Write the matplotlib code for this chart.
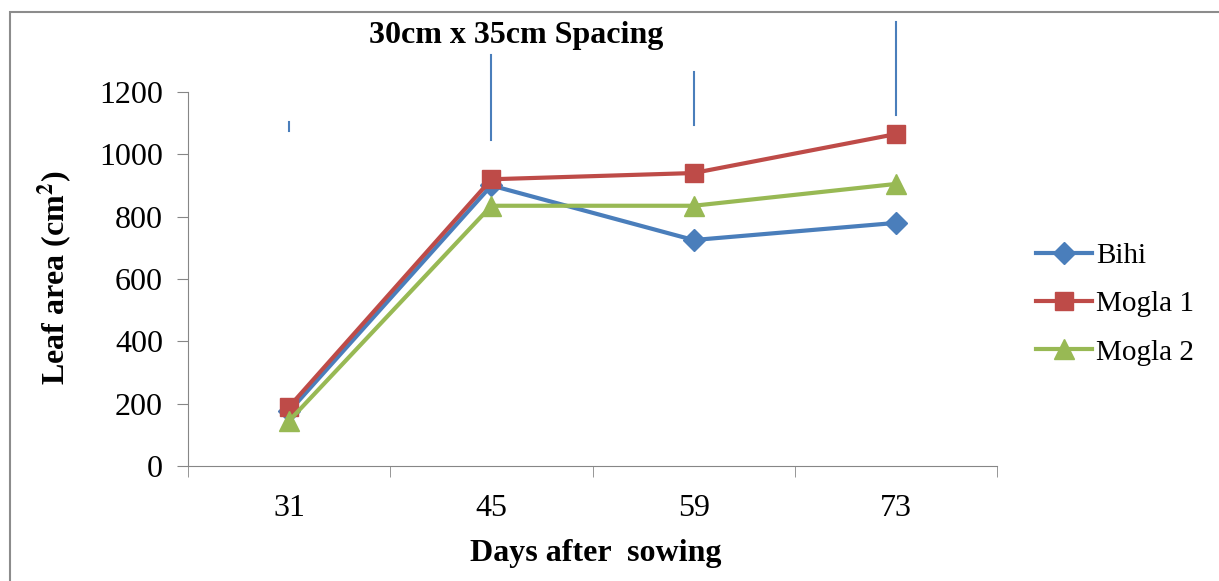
import matplotlib.pyplot as plt
from matplotlib.patches import Rectangle
from matplotlib.ticker import FixedLocator

plt.rcParams['font.family'] = ['Liberation Serif', 'DejaVu Serif']
plt.rcParams['mathtext.fontset'] = 'stix'

days = ['31', '45', '59', '73']
bihi = [175, 900, 725, 780]
mogla1 = [190, 920, 940, 1065]
mogla2 = [145, 835, 835, 905]

# upper parts of the error bars that are still visible above the plot
err_low = [1075, 1046, 1094, 1126]
err_high = [1104, 1319, 1264, 1424]

fig = plt.figure(figsize=(12.19, 5.81), dpi=100)
fig.patches.append(Rectangle((10 / 1219, -0.1), 1.2, 1 - 12 / 581 + 0.1,
                             transform=fig.transFigure, fill=False,
                             edgecolor='#8c8c8c', linewidth=1.5))

ax = fig.add_axes([188 / 1219, 1 - 466 / 581, (997 - 188) / 1219, (466 - 92) / 581])
x = range(len(days))

ax.plot(x, bihi, color='#4A7EBB', lw=3, marker='D', ms=11, label='Bihi')
ax.plot(x, mogla1, color='#BE4B48', lw=3, marker='s', ms=13, label='Mogla 1')
ax.plot(x, mogla2, color='#98B954', lw=3, marker='^', ms=14, label='Mogla 2')

for i in x:
    ax.plot([i, i], [err_low[i], err_high[i]], color='#4A7EBB', lw=1.5,
            clip_on=False)

ax.set_xlim(-0.5, 3.5)
ax.set_ylim(0, 1200)
ax.set_xticks(list(x))
ax.set_xticklabels(days)
ax.xaxis.set_minor_locator(FixedLocator([-0.5, 0.5, 1.5, 2.5, 3.5]))
ax.tick_params(axis='x', which='major', length=0, labelsize=23, pad=20)
ax.tick_params(axis='x', which='minor', length=8, color='#868686')
ax.set_yticks(range(0, 1201, 200))
ax.tick_params(axis='y', length=8, color='#868686', labelsize=23, pad=10)

for s in ['top', 'right']:
    ax.spines[s].set_visible(False)
for s in ['left', 'bottom']:
    ax.spines[s].set_color('#868686')

fig.text(55 / 1219, 1 - 278 / 581, 'Leaf area (cm$^{\\mathbf{2}}$)', rotation=90,
         ha='center', va='center', fontsize=23, fontweight='bold')
fig.text(596 / 1219, 1 - 553 / 581, 'Days after  sowing', ha='center',
         va='center', fontsize=23, fontweight='bold')
fig.text(516 / 1219, 1 - 36 / 581, '30cm x 35cm Spacing', ha='center',
         va='center', fontsize=23, fontweight='bold')

ax.legend(loc='center left', bbox_to_anchor=(1010 / 1219, 1 - 304 / 581),
          bbox_transform=fig.transFigure, frameon=False, fontsize=21,
          handlelength=1.9, handletextpad=0.15, labelspacing=0.75)

fig.savefig('out.png', dpi=100)
